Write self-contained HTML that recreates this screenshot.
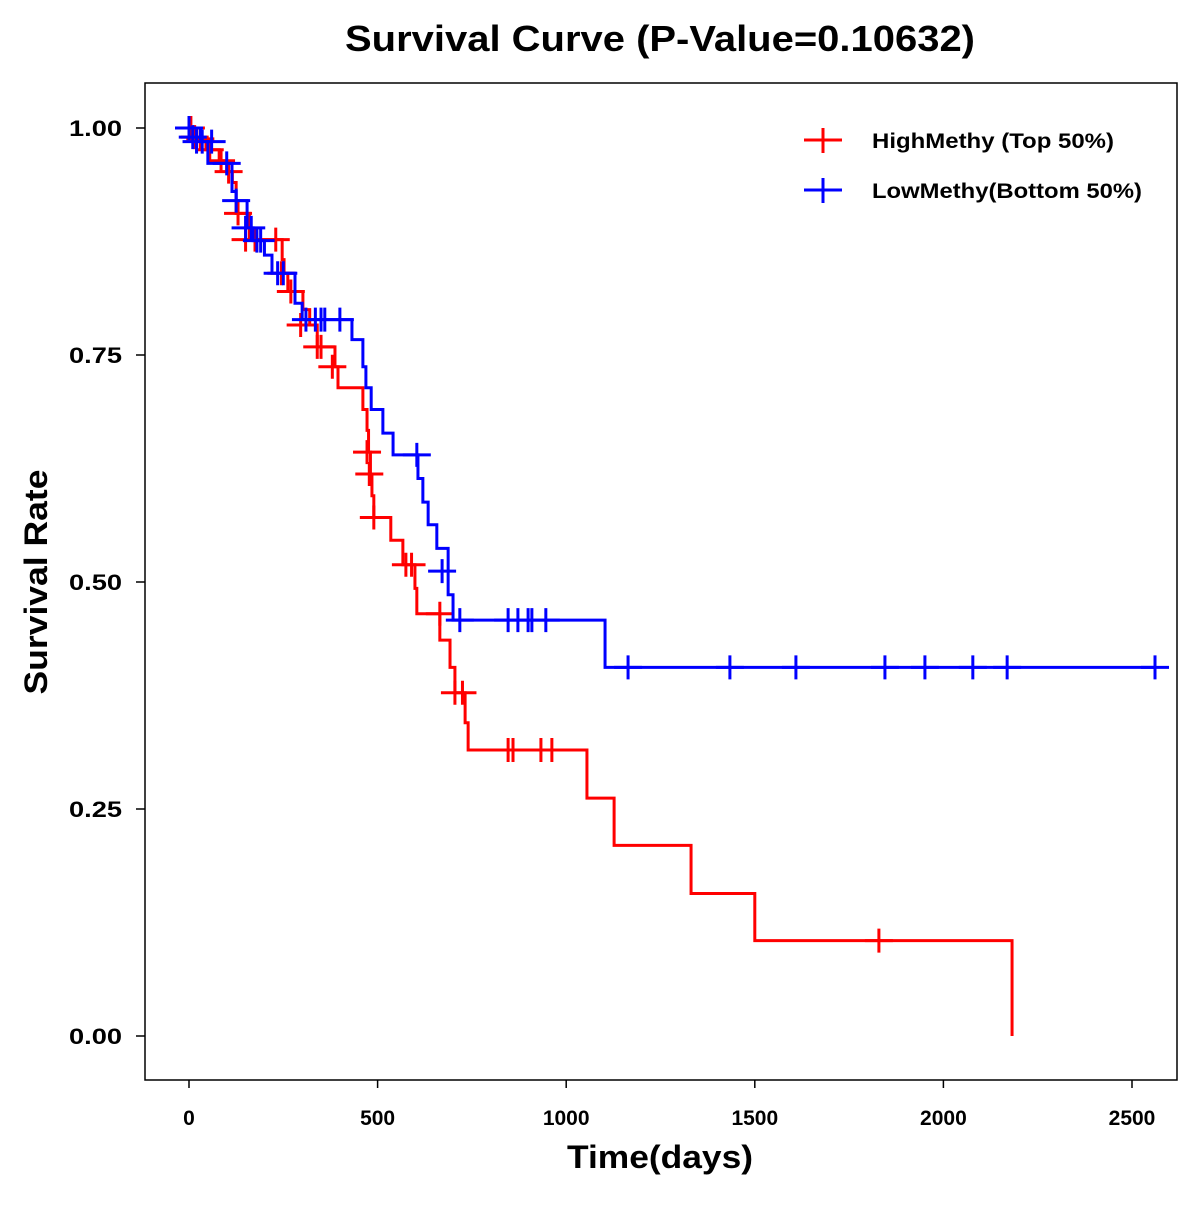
<!DOCTYPE html>
<html><head><meta charset="utf-8"><style>
body{margin:0;background:#fff}
svg text{font-family:"Liberation Sans",Arial,sans-serif;font-weight:bold}
</style></head><body>
<svg id="chart" width="1200" height="1200" viewBox="0 0 1200 1200" xmlns="http://www.w3.org/2000/svg">
<rect width="1200" height="1200" fill="#fff"/>
<text x="660" y="51" font-size="36" text-anchor="middle" textLength="630" lengthAdjust="spacingAndGlyphs">Survival Curve (P-Value=0.10632)</text>
<rect x="145" y="83" width="1032" height="997" fill="none" stroke="#000" stroke-width="1.5"/>
<g id="axes"></g>
<g id="series"></g>
<text x="660" y="1168" font-size="32" text-anchor="middle" textLength="186" lengthAdjust="spacingAndGlyphs">Time(days)</text>
<text x="47" y="582" font-size="32" text-anchor="middle" textLength="225" lengthAdjust="spacingAndGlyphs" transform="rotate(-90 47 582)">Survival Rate</text>
<g>
<g>
<path d="M804 140H842M823 128V153" stroke="#f00" stroke-width="3"/>
<text x="872" y="148" font-size="21" textLength="242" lengthAdjust="spacingAndGlyphs">HighMethy (Top 50%)</text></g>
<g>
<path d="M804 190H842M823 178V203" stroke="#00f" stroke-width="3"/>
<text x="872" y="198" font-size="21" textLength="270" lengthAdjust="spacingAndGlyphs">LowMethy(Bottom 50%)</text></g>
</g>
</svg>
<script>
const xTicks=[0,500,1000,1500,2000,2500];
const yTicks=[0,0.25,0.5,0.75,1];
const yTickLabels=["0.00","0.25","0.50","0.75","1.00"];
const highTimes=[20,45,80,100,115,125,160,247,252,262,302,320,340,387,395,461,472,476,481,485,490,535,567,599,604,665,692,705,732,740,1055,1127,1331,1500,2182];
const highSurv=[0.988,0.976,0.964,0.952,0.94,0.906,0.877,0.855,0.84,0.82,0.8,0.783,0.759,0.737,0.714,0.69,0.667,0.643,0.619,0.595,0.571,0.546,0.519,0.493,0.465,0.436,0.406,0.378,0.345,0.315,0.262,0.21,0.157,0.105,0];
const highCensorT=[5,15,30,55,85,105,130,150,175,230,245,270,296,340,350,380,472,478,490,575,590,665,705,725,846,859,933,962,1829];
const highCensorS=[1,0.99,0.988,0.976,0.964,0.952,0.906,0.877,0.877,0.877,0.84,0.82,0.783,0.759,0.759,0.737,0.643,0.619,0.571,0.519,0.519,0.465,0.378,0.378,0.315,0.315,0.315,0.315,0.105];
const lowTimes=[30,50,114,125,154,170,200,220,281,300,432,461,469,483,514,541,607,620,634,657,687,700,1103];
const lowSurv=[0.985,0.961,0.93,0.92,0.89,0.876,0.86,0.84,0.807,0.789,0.767,0.737,0.714,0.69,0.664,0.64,0.614,0.588,0.563,0.537,0.486,0.458,0.406];
const lowCensorT=[0,10,20,35,60,100,125,150,165,180,190,235,250,310,335,350,360,400,604,671,718,846,872,899,909,946,1164,1434,1609,1845,1951,2078,2169,2561];
const lowCensorS=[1,0.99,0.985,0.985,0.985,0.961,0.92,0.89,0.89,0.876,0.876,0.84,0.84,0.789,0.789,0.789,0.789,0.789,0.64,0.512,0.458,0.458,0.458,0.458,0.458,0.458,0.406,0.406,0.406,0.406,0.406,0.406,0.406,0.406];
const NS="http://www.w3.org/2000/svg";
const xs=d=>189+d*0.3772, ys=s=>1036-s*908;
const axes=document.getElementById('axes'), ser=document.getElementById('series');
function mk(tag,attrs,parent){const e=document.createElementNS(NS,tag);for(const k in attrs)e.setAttribute(k,attrs[k]);parent.appendChild(e);return e;}
xTicks.forEach(t=>{
  const l=mk('line',{x1:xs(t),x2:xs(t),y1:1080,y2:1088,stroke:'#000','stroke-width':1.5},axes);
  
  
  const tx=mk('text',{x:xs(t),y:1125,'font-size':21,'text-anchor':'middle'},axes);
  tx.textContent=t;
  
  
});
yTicks.forEach((t,i)=>{
  const l=mk('line',{x1:136,x2:145,y1:ys(t),y2:ys(t),stroke:'#000','stroke-width':1.5},axes);
  
  
  const tx=mk('text',{x:122,y:ys(t)+8,'font-size':22,'text-anchor':'end',textLength:53,lengthAdjust:'spacingAndGlyphs'},axes);
  tx.textContent=yTickLabels[i];
  
  
});
function curve(times,surv,cT,cS,color,name){
  let d='M'+xs(0)+' '+ys(1);
  times.forEach((t,i)=>{d+='H'+xs(t)+'V'+ys(surv[i]);});
  if(surv[surv.length-1]>0) d+='H'+xs(cT[cT.length-1]);
  const p=mk('path',{d:d,fill:'none',stroke:color,'stroke-width':3},ser);
  
  
  let cd='';
  cT.forEach((t,i)=>{const x=xs(t),y=ys(cS[i]);cd+='M'+(x-14)+' '+y+'H'+(x+14)+'M'+x+' '+(y-12)+'V'+(y+12);});
  const c=mk('path',{d:cd,fill:'none',stroke:color,'stroke-width':3},ser);
  
  
}
curve(highTimes,highSurv,highCensorT,highCensorS,'#f00','high-methy');
curve(lowTimes,lowSurv,lowCensorT,lowCensorS,'#00f','low-methy');
</script>
</body></html>
